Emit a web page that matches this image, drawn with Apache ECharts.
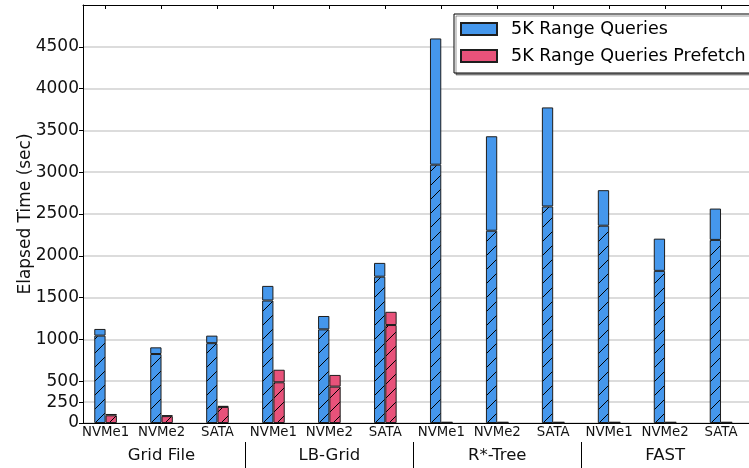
<!DOCTYPE html>
<html>
<head>
<meta charset="utf-8">
<script src="https://cdn.jsdelivr.net/npm/echarts@6/dist/echarts.min.js"></script>
<style>
html,body{margin:0;padding:0;background:#fff;}
#chart{width:749px;height:468px;}
</style>
</head>
<body>
<div id="chart"></div>
<script>
const categories = ['NVMe1','NVMe2','SATA','NVMe1','NVMe2','SATA','NVMe1','NVMe2','SATA','NVMe1','NVMe2','SATA'];
const groups = ['Grid File','LB-Grid','R*-Tree','FAST'];
const yTicks = [0,250,500,1000,1500,2000,2500,3000,3500,4000,4500];
// total elapsed time and the hatched (lower) part
const rangeTotal = [1125, 905, 1045, 1640, 1280, 1915, 4600, 3430, 3775, 2785, 2205, 2565];
const rangeLower = [1045, 825, 955, 1465, 1120, 1750, 3090, 2300, 2590, 2360, 1820, 2190];
const prefTotal  = [108, 92, 205, 637, 575, 1330, 10, 10, 10, 10, 10, 10];
const prefLower  = [92, 82, 192, 487, 435, 1172, 6, 6, 6, 6, 6, 6];

const BLUE = '#4597EC';
const PINK = '#E8527A';
const EDGE = '#1e1e1e';
const FONT = 'DejaVu Sans';

function hatchPattern(bg) {
  const s = 14;
  const c = document.createElement('canvas');
  c.width = s; c.height = s;
  const ctx = c.getContext('2d');
  ctx.fillStyle = bg;
  ctx.fillRect(0, 0, s, s);
  ctx.strokeStyle = '#000';
  ctx.lineWidth = 1;
  ctx.beginPath();
  ctx.moveTo(-1, s + 1); ctx.lineTo(s + 1, -1);
  ctx.moveTo(-1 - s, s + 1); ctx.lineTo(1, -1);
  ctx.moveTo(s - 1, s + 1); ctx.lineTo(2 * s + 1, -1);
  ctx.stroke();
  return {image: c, repeat: 'repeat'};
}
const diff = (a, b) => a.map((v, i) => v - b[i]);

const chart = echarts.init(document.getElementById('chart'), null, {renderer: 'canvas'});
const barBase = {type: 'bar', xAxisIndex: 2, yAxisIndex: 1, barWidth: 11.3, barGap: '0%'};
chart.setOption({
  animation: false,
  textStyle: {fontFamily: FONT},
  grid: [
    {left: 83, right: -8, top: 5, bottom: 45},
    {left: 77.6, right: -3.5, top: 5, bottom: 45}
  ],
  legend: {
    data: ['5K Range Queries', '5K Range Queries Prefetch'],
    orient: 'vertical', left: 454, top: 14,
    itemWidth: 36, itemHeight: 12, itemGap: 9,
    padding: [6, 20, 8, 6],
    borderColor: '#000', borderWidth: 1, borderRadius: 0,
    backgroundColor: '#fff',
    shadowColor: 'rgba(0,0,0,0.4)', shadowOffsetX: 2, shadowOffsetY: 2, shadowBlur: 0,
    icon: 'rect',
    textStyle: {fontSize: 17.5, color: '#000', fontFamily: FONT, lineHeight: 17, padding: [0, 0, 0, 9]}
  },
  xAxis: [
    {gridIndex: 0, type: 'value', min: 0, max: 1, position: 'bottom',
     axisLine: {show: true, lineStyle: {color: '#000', width: 1}}, axisTick: {show: false},
     axisLabel: {show: false}, splitLine: {show: false}},
    {gridIndex: 0, type: 'value', min: 0, max: 1, position: 'top',
     axisLine: {show: true, lineStyle: {color: '#000', width: 1}}, axisTick: {show: false},
     axisLabel: {show: false}, splitLine: {show: false}},
    {gridIndex: 1, type: 'category', data: categories, position: 'bottom',
     axisLine: {show: false}, axisTick: {show: false},
     axisLabel: {interval: 0, fontSize: 13.3, color: '#111', margin: 3, fontFamily: FONT}},
    {gridIndex: 1, type: 'category', data: categories, position: 'top',
     axisLine: {show: false},
     axisTick: {show: true, inside: true, alignWithLabel: true, length: 4, lineStyle: {color: '#000'}},
     axisLabel: {show: false}},
    {gridIndex: 1, type: 'category', data: groups, position: 'bottom', offset: 19,
     axisLine: {show: false},
     axisTick: {show: true, length: 27, interval: (i) => i > 0, lineStyle: {color: '#000', width: 1}},
     axisLabel: {interval: 0, fontSize: 16.5, color: '#111', margin: 5, fontFamily: FONT}}
  ],
  yAxis: [
    {gridIndex: 0, type: 'value', min: 0, max: 5000,
     name: 'Elapsed Time (sec)', nameLocation: 'middle', nameGap: 49, nameMoveOverlap: false,
     nameTextStyle: {fontSize: 17, color: '#111', fontFamily: FONT},
     axisLine: {show: true, lineStyle: {color: '#000', width: 1}},
     axisTick: {show: true, length: 4, customValues: yTicks, lineStyle: {color: '#000'}},
     axisLabel: {customValues: yTicks, formatter: (v) => String(v), fontSize: 17, color: '#111', margin: 4, fontFamily: FONT},
     splitLine: {show: true, lineStyle: {color: '#d0d0d0', width: 1.5}}},
    {gridIndex: 1, type: 'value', min: 0, max: 5000, show: false, splitLine: {show: false}}
  ],
  series: [
    Object.assign({}, barBase, {name: 'range-lower', stack: 'range', data: rangeLower,
      itemStyle: {color: hatchPattern(BLUE), borderColor: EDGE, borderWidth: 1}}),
    Object.assign({}, barBase, {name: '5K Range Queries', stack: 'range', data: diff(rangeTotal, rangeLower),
      itemStyle: {color: BLUE, borderColor: EDGE, borderWidth: 1}}),
    Object.assign({}, barBase, {name: 'pref-lower', stack: 'pref', data: prefLower,
      itemStyle: {color: hatchPattern(PINK), borderColor: EDGE, borderWidth: 1}}),
    Object.assign({}, barBase, {name: '5K Range Queries Prefetch', stack: 'pref', data: diff(prefTotal, prefLower),
      itemStyle: {color: PINK, borderColor: EDGE, borderWidth: 1}})
  ]
});
</script>
</body>
</html>
